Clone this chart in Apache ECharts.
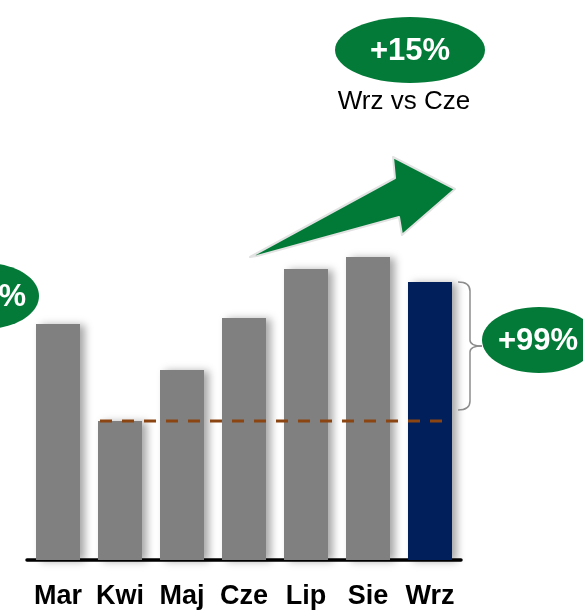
<!DOCTYPE html>
<html>
<head>
<meta charset="utf-8">
<script src="https://cdn.jsdelivr.net/npm/echarts@6/dist/echarts.min.js"></script>
<style>
  html, body { margin: 0; padding: 0; background: #fff }
  #chart { width: 583px; height: 611px }
</style>
</head>
<body>
<div id="chart"></div>
<script>
// months and bar heights (arbitrary units)
const months = ['Mar', 'Kwi', 'Maj', 'Cze', 'Lip', 'Sie', 'Wrz']
const values = [236, 139, 190, 242, 291, 303, 278]
const barColors = ['#808080', '#808080', '#808080', '#808080', '#808080', '#808080', '#001F5B']

const green = '#047A38'
const font = '"Liberation Sans", Arial, sans-serif'

const chart = echarts.init(document.getElementById('chart'))

chart.setOption({
  animation: false,
  grid: { left: 27, right: 122, top: 240, bottom: 51 },
  xAxis: {
    type: 'category',
    data: months,
    axisLine: { lineStyle: { color: '#000', width: 3.5 } },
    axisTick: { show: false },
    axisLabel: { interval: 0, fontFamily: font, fontSize: 27, fontWeight: 'bold', color: '#000', margin: 23 }
  },
  yAxis: { type: 'value', min: 0, max: 320, show: false, splitLine: { show: false } },
  series: [{
    type: 'bar',
    barCategoryGap: '29%',
    data: values.map((v, i) => ({ value: v, itemStyle: { color: barColors[i] } })),
    itemStyle: {
      shadowColor: 'rgba(0,0,0,0.35)',
      shadowBlur: 8,
      shadowOffsetX: 5,
      shadowOffsetY: 1
    }
  }]
})

// annotations placed from the value scale
const yKwi = chart.convertToPixel({ yAxisIndex: 0 }, values[1])
const yWrz = chart.convertToPixel({ yAxisIndex: 0 }, values[6])
const yBot = yKwi - 11
const yMid = (yWrz + yBot) / 2

const braceStyle = { stroke: '#8c8c8c', lineWidth: 1.5, fill: null }
function curve(x1, y1, cx, cy, x2, y2) {
  return { type: 'bezierCurve', z: 5, shape: { x1, y1, cpx1: cx, cpy1: cy, x2, y2 }, style: braceStyle }
}
function seg(x1, y1, x2, y2) {
  return { type: 'line', z: 5, shape: { x1, y1, x2, y2 }, style: braceStyle }
}

function ellipse(cx, cy, rx, ry, label, dx = 0) {
  return [
    { type: 'ellipse', shape: { cx, cy, rx, ry }, style: { fill: green }, z: 10 },
    { type: 'text', x: cx + dx, y: cy + 1, z: 11,
      style: { text: label, fill: '#fff', font: 'bold 31px ' + font, align: 'center', verticalAlign: 'middle' } }
  ]
}

chart.setOption({
  graphic: [
    // dashed reference line at Kwi level
    { type: 'line', shape: { x1: 100, y1: yKwi, x2: 447, y2: yKwi },
      style: { stroke: '#8B4513', lineWidth: 3, lineDash: [12, 10] }, z: 5 },
    // brace
    curve(458, yWrz, 470, yWrz, 470, yWrz + 9),
    seg(470, yWrz + 9, 470, yMid - 6),
    curve(470, yMid - 6, 470, yMid, 482, yMid),
    curve(482, yMid, 470, yMid, 470, yMid + 6),
    seg(470, yMid + 6, 470, yBot - 9),
    curve(470, yBot - 9, 470, yBot, 458, yBot),
    // arrow
    { type: 'polygon', z: 5,
      shape: { points: [[250, 257], [395, 178], [393, 157], [455, 189], [402, 235], [399, 217], [257, 256]] },
      style: { fill: '#007A36', stroke: '#e2e2e2', lineWidth: 2, lineJoin: 'round' } },
    ...ellipse(410, 50, 75, 33, '+15%'),
    { type: 'text', x: 404, y: 102, z: 11,
      style: { text: 'Wrz vs Cze', fill: '#000', font: '26px ' + font, align: 'center', verticalAlign: 'middle' } },
    ...ellipse(539, 340, 57, 33, '+99%', -1),
    ...ellipse(-15, 296, 54, 33, '-41%', 5)
  ]
})
</script>
</body>
</html>
